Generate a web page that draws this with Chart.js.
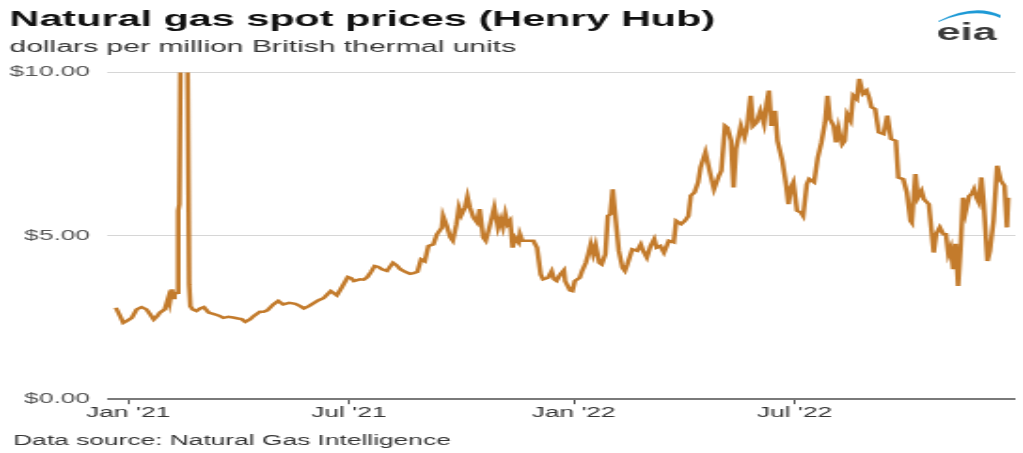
<!DOCTYPE html>
<html>
<head>
<meta charset="utf-8">
<script src="https://cdn.jsdelivr.net/npm/chart.js@4.4.1/dist/chart.umd.min.js"></script>
<style>
  html, body { margin: 0; padding: 0; background: #fff; }
  /* the reference picture is stretched sideways, so the canvas is drawn narrow and widened */
  #gasChart { display: block; width: 1023px !important; height: 453px !important; }
</style>
</head>
<body>
<canvas id="gasChart" width="544" height="453" style="width:1023px;height:453px"></canvas>
<script>
// days since 1 Jan 2021, and Henry Hub spot price ($/MMBtu)
const days = [
  -10, -6, -4, -1, 3, 7, 11, 15, 18, 21, 24, 26, 30, 33, 34, 36, 37, 38, 40,
  41, 42, 44, 46, 48, 50, 51, 53, 56, 59, 62, 66, 69, 71, 75, 78, 82, 86, 90, 93, 96,
  100, 103, 108, 111, 114, 119, 123, 127, 132, 137, 141, 144, 148, 151, 156, 160, 163, 166, 171, 175,
  180, 183, 185, 190, 193, 196, 199, 202, 205, 208, 212, 217, 220, 223, 227, 231, 234, 237, 240, 243,
  246, 250, 253, 257, 258, 261, 264, 266, 269, 271, 273, 276, 278, 280, 283, 286, 288, 291, 293, 296,
  300, 303, 305, 307, 309, 311, 313, 315, 317, 320, 321, 323, 328, 332, 335, 338, 340, 344, 347, 349,
  351, 354, 357, 358, 362, 364, 366, 370, 372, 375, 377, 379, 381, 383, 386, 388, 391, 393, 395, 397,
  399, 402, 405, 407, 409, 413, 417, 420, 422, 425, 428, 431, 433, 436, 439, 443, 447, 449, 453, 456,
  459, 461, 464, 467, 469, 473, 477, 480, 484, 486, 489, 491, 494, 496, 498, 502, 505, 507, 510, 512,
  515, 518, 521, 523, 525, 527, 530, 532, 536, 539, 541, 543, 545, 548, 551, 553, 556, 558, 562, 565,
  568, 571, 573, 575, 578, 580, 582, 585, 587, 589, 592, 594, 597, 599, 602, 605, 607, 609, 612, 615,
  619, 622, 625, 629, 631, 635, 638, 641, 642, 645, 647, 650, 652, 656, 660, 662, 665, 668, 670, 672,
  674, 676, 678, 680, 682, 684, 686, 689, 691, 693, 695, 697, 699, 701, 704, 706, 709, 712, 715, 718,
  720, 721
];
const prices = [
  2.80, 2.50, 2.34, 2.40, 2.49, 2.75, 2.82, 2.75, 2.60, 2.44, 2.55, 2.65, 2.75, 3.11, 2.95, 3.36, 3.10, 3.21, 3.26,
  5.77, 5.97, 16.0, 23.86, 14.0, 3.50, 2.85, 2.75, 2.70, 2.78, 2.82, 2.65, 2.62, 2.60, 2.55, 2.49, 2.52, 2.50, 2.47, 2.45, 2.37,
  2.45, 2.55, 2.68, 2.68, 2.72, 2.90, 3.01, 2.90, 2.95, 2.92, 2.85, 2.78, 2.85, 2.92, 3.03, 3.09, 3.20, 3.31, 3.18, 3.42,
  3.74, 3.70, 3.62, 3.67, 3.66, 3.74, 3.90, 4.08, 4.05, 3.98, 3.93, 4.18, 4.10, 3.98, 3.90, 3.84, 3.86, 3.90, 4.28, 4.22,
  4.69, 4.74, 5.05, 5.25, 5.61, 5.31, 4.95, 4.85, 5.36, 5.87, 5.64, 5.87, 6.20, 5.87, 5.56, 5.41, 5.82, 4.95, 4.85, 5.26,
  5.87, 5.26, 5.51, 5.26, 5.67, 5.36, 5.46, 4.64, 4.95, 4.80, 5.05, 4.85, 4.85, 4.85, 4.64, 3.82, 3.67, 3.72, 3.92, 3.67,
  3.62, 3.82, 3.95, 3.62, 3.33, 3.31, 3.62, 3.72, 3.93, 4.18, 4.44, 4.74, 4.44, 4.72, 4.18, 4.13, 4.44, 5.61, 5.66, 6.43,
  5.66, 4.54, 4.03, 3.93, 4.13, 4.59, 4.54, 4.74, 4.54, 4.34, 4.69, 4.90, 4.64, 4.69, 4.49, 4.85, 4.80, 5.46, 5.36, 5.46,
  5.61, 6.23, 6.33, 6.64, 7.10, 7.56, 6.89, 6.43, 6.84, 6.99, 8.37, 8.31, 7.91, 6.48, 7.66, 8.37, 8.02, 8.31, 9.29, 8.37,
  8.48, 8.83, 8.43, 9.04, 9.45, 8.37, 8.83, 7.91, 7.30, 6.58, 5.97, 6.48, 6.64, 5.77, 5.72, 5.61, 6.58, 6.74, 6.64, 7.40,
  7.86, 8.48, 9.29, 8.58, 8.37, 7.86, 8.31, 7.81, 7.91, 8.73, 8.53, 9.30, 9.19, 9.81, 9.35, 9.45, 9.24, 8.94, 8.88, 8.17,
  8.12, 8.68, 7.97, 7.91, 6.79, 6.74, 6.33, 5.46, 5.41, 6.89, 6.17, 6.38, 6.12, 5.97, 4.49, 5.05, 5.26, 5.05, 5.05, 4.44,
  4.64, 3.98, 4.76, 3.47, 4.64, 6.17, 5.72, 6.22, 6.28, 6.43, 6.17, 6.02, 6.79, 5.97, 4.23, 4.54, 5.46, 7.15, 6.69, 6.53,
  5.26, 6.17
];
const tickDays = [0, 181, 365, 546];
const tickLabels = ["Jan '21", "Jul '21", "Jan '22", "Jul '22"];
const yTicks = [0, 5, 10];

const sourceText = 'Data source: Natural Gas Intelligence';
const FONT = "'Liberation Sans', Arial, sans-serif";
Chart.defaults.font.family = FONT;

// source line and eia logo
const extras = {
  id: 'extras',
  afterDraw(chart) {
    const ctx = chart.ctx;
    ctx.save();
    ctx.fillStyle = '#333';
    ctx.font = '14px ' + FONT;
    ctx.textBaseline = 'alphabetic';
    ctx.fillText(sourceText, 7, 445);

    ctx.fillStyle = '#3b3b3b';
    ctx.font = 'bold 23px ' + FONT;
    ctx.fillText('eia', 498, 40);
    ctx.fillStyle = '#1e9ad6';
    ctx.beginPath();
    ctx.moveTo(499, 21);
    ctx.quadraticCurveTo(518, 3, 532, 15);
    ctx.lineTo(532, 18);
    ctx.quadraticCurveTo(518, 7, 499, 22);
    ctx.closePath();
    ctx.fill();
    ctx.restore();
  }
};

const points = days.map((d, i) => ({ x: d, y: prices[i] }));

new Chart(document.getElementById('gasChart'), {
  type: 'line',
  data: {
    datasets: [{
      data: points,
      borderColor: '#c37b2c',
      borderWidth: 2.5,
      pointRadius: 0,
      tension: 0,
      fill: false
    }]
  },
  options: {
    responsive: false,
    animation: false,
    layout: { padding: { left: 5, right: 4, top: 0, bottom: 30 } },
    plugins: {
      legend: { display: false },
      tooltip: { enabled: false },
      title: {
        display: true,
        text: 'Natural gas spot prices (Henry Hub)',
        align: 'start',
        color: '#111',
        font: { size: 22, weight: 'bold' },
        padding: { top: 7, bottom: 5 }
      },
      subtitle: {
        display: true,
        text: 'dollars per million British thermal units',
        align: 'start',
        color: '#333',
        font: { size: 16 },
        padding: { top: 0, bottom: 15 }
      }
    },
    scales: {
      x: {
        type: 'linear',
        min: -16.5,
        max: 727,
        afterBuildTicks: s => { s.ticks = tickDays.map(v => ({ value: v })); },
        ticks: {
          color: '#333',
          font: { size: 14 },
          padding: 1,
          maxRotation: 0,
          callback: v => tickLabels[tickDays.indexOf(v)]
        },
        grid: { drawOnChartArea: false, color: '#555', tickLength: 5 },
        border: { display: false }
      },
      y: {
        min: 0,
        max: 10,
        afterBuildTicks: s => { s.ticks = yTicks.map(v => ({ value: v })); },
        afterFit: s => { s.width = 52.4; },
        ticks: {
          color: '#555',
          font: { size: 14 },
          padding: 9.5,
          callback: v => '$' + v.toFixed(2)
        },
        grid: {
          drawTicks: false,
          color: c => c.tick.value === 0 ? '#7a7a7a' : '#d6d6d6',
          lineWidth: c => c.tick.value === 0 ? 2 : 1
        },
        border: { display: false }
      }
    }
  },
  plugins: [extras]
});
</script>
</body>
</html>
